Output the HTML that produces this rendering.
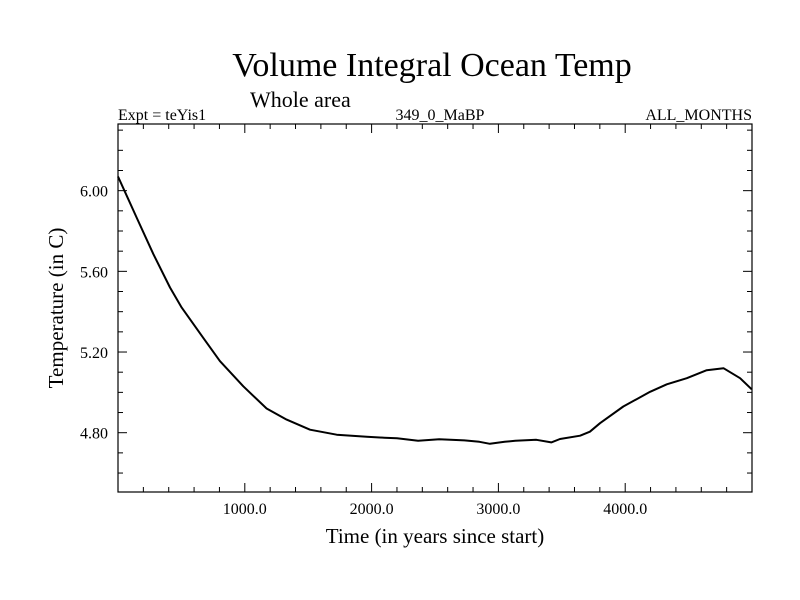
<!DOCTYPE html>
<html><head><meta charset="utf-8"><style>body{margin:0;background:#fff}svg{display:block}text{font-family:"Liberation Serif",serif;fill:#000}</style></head>
<body>
<svg id="chart" width="800" height="600" xmlns="http://www.w3.org/2000/svg">
<text x="432" y="76" font-size="34" text-anchor="middle">Volume Integral Ocean Temp</text>
<text x="250" y="107" font-size="22">Whole area</text>
<text x="118" y="120" font-size="16">Expt = teYis1</text>
<text x="440" y="120" font-size="16" text-anchor="middle">349_0_MaBP</text>
<text x="752" y="120" font-size="16" text-anchor="end">ALL_MONTHS</text>
<text x="435" y="543" font-size="21" text-anchor="middle">Time (in years since start)</text>
<text x="0" y="0" font-size="21" text-anchor="middle" transform="translate(63,308) rotate(-90)">Temperature (in C)</text>
<rect x="118" y="124" width="634" height="368" fill="none" stroke="#000" stroke-width="1.2"/>
<g id="axes"></g>
<path id="series" fill="none" stroke="#000" stroke-width="2" stroke-linejoin="round"/>
</svg>
<script>
const years=[0,147,279,410,502,673,804,988,1172,1330,1514,1725,1961,2100,2200,2367,2533,2733,2850,2933,3050,3133,3300,3417,3486,3644,3722,3801,3985,4196,4328,4486,4643,4775,4906,4998];
const temps=[6.07,5.867,5.685,5.52,5.42,5.27,5.155,5.03,4.92,4.865,4.815,4.79,4.78,4.775,4.772,4.76,4.768,4.762,4.755,4.745,4.755,4.76,4.765,4.752,4.769,4.785,4.805,4.847,4.93,5.003,5.04,5.07,5.11,5.12,5.07,5.015];
const xTicks=[1000,2000,3000,4000];
const xTickLabels=["1000.0","2000.0","3000.0","4000.0"];
const yTicks=[4.8,5.2,5.6,6.0];
const yTickLabels=["4.80","5.20","5.60","6.00"];
const X0=0,X1=5000,PL=118,PR=752,PT=124,PB=492;
const sx=v=>PL+(v-X0)/(X1-X0)*(PR-PL);
const sy=v=>432.7-(v-4.8)*201.7;
const ns="http://www.w3.org/2000/svg";
const g=document.getElementById('axes');
function ln(x1,y1,x2,y2,name){const l=document.createElementNS(ns,'line');l.setAttribute('x1',x1);l.setAttribute('y1',y1);l.setAttribute('x2',x2);l.setAttribute('y2',y2);l.setAttribute('stroke','#000');l.setAttribute('stroke-width','1');


g.appendChild(l);}
function tx(x,y,s,anchor,name){const t=document.createElementNS(ns,'text');t.setAttribute('x',x);t.setAttribute('y',y);t.setAttribute('font-size','16');t.setAttribute('text-anchor',anchor);t.textContent=s;


g.appendChild(t);}
for(let v=200;v<5000;v+=200){const x=sx(v);const major=v%1000===0;const L=major?9:5;ln(x,PB,x,PB-L,'x-tick');ln(x,PT,x,PT+L,'x-tick');}
xTicks.forEach((v,i)=>tx(sx(v),514,xTickLabels[i],'middle','x-tick-label'));
for(let k=0;k<=18;k++){const v=4.5+k*0.1;const y=sy(v);if(y<PT||y>PB)continue;const major=yTicks.some(t=>Math.abs(t-v)<1e-6);const L=major?9:5;ln(PL,y,PL+L,y,'y-tick');ln(PR,y,PR-L,y,'y-tick');}
yTicks.forEach((v,i)=>tx(108,sy(v)+6,yTickLabels[i],'end','y-tick-label'));
document.getElementById('series').setAttribute('d',years.map((y,i)=>(i?'L':'M')+sx(y).toFixed(1)+','+sy(temps[i]).toFixed(1)).join(''));
</script>
</body></html>
